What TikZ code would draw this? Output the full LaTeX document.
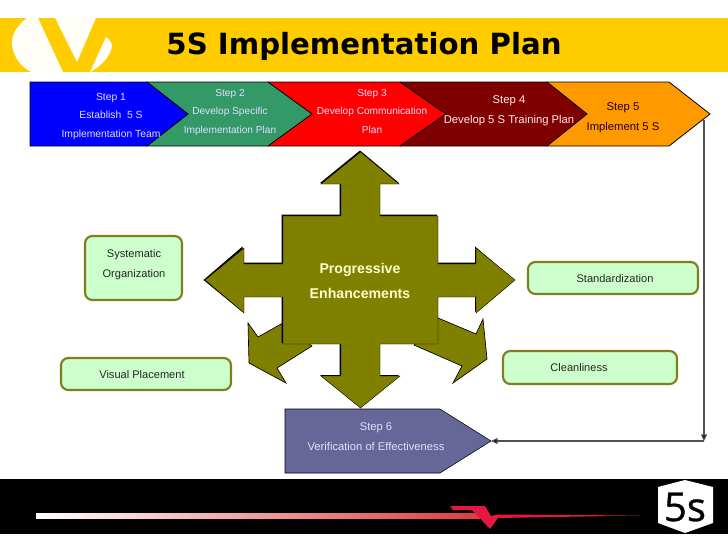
\documentclass[tikz,border=0pt]{standalone}
\usepackage{fontspec}
\setmainfont{Liberation Sans}
\newfontfamily\titlefont{DejaVu Sans}
\newfontfamily\badgefont[FakeBold=0.8]{Open Sans}
\usetikzlibrary{arrows.meta}
\definecolor{bandyellow}{HTML}{FFCC00}
\definecolor{olivefill}{HTML}{808000}
\definecolor{paleyellow}{HTML}{FFFFCC}
\definecolor{palegreen}{HTML}{CCFFCC}
\definecolor{stepgreen}{HTML}{339966}
\definecolor{stepmaroon}{HTML}{800000}
\definecolor{steporange}{HTML}{FF9900}
\definecolor{stepviolet}{HTML}{666699}
\definecolor{markred}{HTML}{E4173E}
\definecolor{boxedge}{HTML}{7F7F20}
\definecolor{linkgrey}{HTML}{505050}
\definecolor{linemid}{HTML}{EFA58E}
\definecolor{lineend}{HTML}{DE3A3C}
\tikzset{
  chevron/.style={draw=black,line width=0.6pt,line join=miter},
  steptext/.style={align=center,text=white!88!blue,font=\fontsize{7.6}{13.9}\selectfont,inner sep=0pt},
  steptextbig/.style={align=center,text=white!92!red,font=\fontsize{8.45}{15}\selectfont,inner sep=0pt},
  softbox/.style={draw=boxedge,line width=1.6pt,fill=palegreen,rounded corners=5.5pt},
  softtext/.style={align=center,text=black!85,font=\fontsize{8.3}{14.8}\selectfont,inner sep=0pt},
  crossarrow/.style={fill=olivefill,draw=black,line width=0.5pt,line join=miter},
  linkline/.style={draw=linkgrey,line width=0.9pt,-{Triangle[length=5pt,width=4.5pt,fill=black]}}
}
\begin{document}
\begin{tikzpicture}[x=0.75pt,y=-0.75pt]
\useasboundingbox (0,0) rectangle (728,546);
\fill[white] (0,0) rectangle (728,546);
% header band and logo
\fill[bandyellow] (0,18) rectangle (728,72);
\fill[white!97!yellow] (27,18) .. controls (17,26) and (11,35) .. (12,44)
  .. controls (13,56) and (20,66) .. (31,72) -- (63,72) -- (38,18) -- cycle;
\fill[white!97!yellow] (55,18) -- (96,18) -- (77,62) -- cycle;
\fill[white!97!yellow] (106,37) .. controls (110,40) and (112,43) .. (112,46)
  .. controls (111,55) and (102,66) .. (90,72) -- cycle;
\node[font=\titlefont\bfseries\fontsize{21.9}{24}\selectfont,inner sep=0pt] (title) at (364,46) {5S Implementation Plan};
% steps
\draw[chevron,fill=steporange] (547,82) -- (669,82) -- (710,114) -- (669,146) -- (547,146) -- cycle;
\draw[chevron,fill=stepmaroon] (400,82) -- (547,82) -- (587,114) -- (547,146) -- (400,146) -- cycle;
\draw[chevron,fill=red] (268,82) -- (400,82) -- (446,114) -- (400,146) -- (268,146) -- cycle;
\draw[chevron,fill=stepgreen] (147,82) -- (268,82) -- (312,114) -- (268,146) -- (147,146) -- cycle;
\draw[chevron,fill=blue] (30,82) -- (147,82) -- (188,114) -- (147,146) -- (30,146) -- cycle;
\node[steptext,font=\fontsize{7.75}{13.9}\selectfont] (s1) at (111,116) {Step 1\\Establish\ \ 5 S\\Implementation Team};
\node[steptext] (s2) at (230,112.5) {Step 2\\Develop Specific\\Implementation Plan};
\node[steptext] (s3) at (372,111.5) {Step 3\\Develop Communication\\Plan};
\node[steptextbig] (s4) at (509,111) {Step 4\\Develop 5 S Training Plan};
\node[steptextbig,text=black!85!red] (s5) at (623,118) {Step 5\\Implement 5 S};
% lower diagonal arrows
\draw[crossarrow] (283,323) -- (258,337) -- (248,323) -- (249,363) -- (286,383) -- (277,368) -- (312,346) -- cycle;
\draw[crossarrow] (438,318) -- (476,334) -- (483,319) -- (487,359) -- (453,383) -- (462,366) -- (414,345) -- cycle;
% cross shadow + cross
\fill[black] (360,150.5) -- (399,183) -- (379,183) -- (379,214.5) -- (437,214.5) -- (437,262.5) -- (475,262.5) -- (475,246.5) -- (514,280) -- (475,312) -- (475,296) -- (437,296) -- (437,343) -- (379,343) -- (379,375) -- (399,375) -- (360,407) -- (320,375) -- (339.5,375) -- (339.5,343) -- (281.5,343) -- (281.5,296) -- (242.5,296) -- (242.5,312) -- (203.5,280) -- (242.5,246.5) -- (242.5,262.5) -- (281.5,262.5) -- (281.5,214.5) -- (339.5,214.5) -- (339.5,183) -- (320,183) -- cycle;
\fill[olivefill,draw=black,line width=0.3pt,line join=miter] (360.5,152) -- (399,184) -- (380,184) -- (380,216) -- (438,216) -- (438,264) -- (476,264) -- (476,248) -- (515,280) -- (476,313) -- (476,297) -- (438,297) -- (438,344) -- (380,344) -- (380,376) -- (400,376) -- (360.5,408) -- (321,376) -- (341,376) -- (341,344) -- (283,344) -- (283,297) -- (244,297) -- (244,313) -- (205,280) -- (244,248) -- (244,264) -- (283,264) -- (283,216) -- (341,216) -- (341,184) -- (321,184) -- cycle;
\node[align=center,text=paleyellow,font=\bfseries\fontsize{10.6}{18.8}\selectfont,inner sep=0pt] (prog) at (360,281) {Progressive\\Enhancements};
% side boxes
\draw[softbox] (85,236) rectangle (182,300);
\node[softtext] (sys) at (134,264.5) {Systematic\\Organization};
\draw[softbox] (61,358) rectangle (231,390);
\node[softtext] (vis) at (142,375) {Visual Placement};
\draw[softbox] (528,262) rectangle (698,294);
\node[softtext] (std) at (615,279) {Standardization};
\draw[softbox] (503,351) rectangle (677,384);
\node[softtext] (cln) at (579,368) {Cleanliness};
% step 6
\draw[chevron,fill=stepviolet,line width=0.4pt] (285,409) -- (440,409) -- (491,441) -- (440,473) -- (285,473) -- cycle;
\node[steptext,font=\fontsize{8.4}{15}\selectfont] (s6) at (376,436.5) {Step 6\\Verification of Effectiveness};
% connector
\coordinate (s5out) at (704,120);
\coordinate (turn) at (704,441);
\coordinate (s6tip) at (491,441);
\draw[linkline] (s5out) -- (turn);
\draw[linkline] (turn) -- (s6tip);
% footer
\fill[black] (0,479) rectangle (728,534);
\shade[left color=white,middle color=linemid,right color=lineend] (36,513) rectangle (480,518);
\fill[markred] (450,506) -- (485,506) -- (491,516) -- (498,514.5) -- (640,515.5) -- (498,518) -- (490,529) -- (477,515) -- (472,510) -- (453,510) -- cycle;
\fill[white] (658,487) -- (685,480) -- (713,487) -- (713,523) -- (685,533) -- (658,523) -- cycle;
\node[font=\badgefont\fontsize{30}{30}\selectfont,text=black,inner sep=0pt] (badge) at (685,507) {5s};
\end{tikzpicture}
\end{document}
